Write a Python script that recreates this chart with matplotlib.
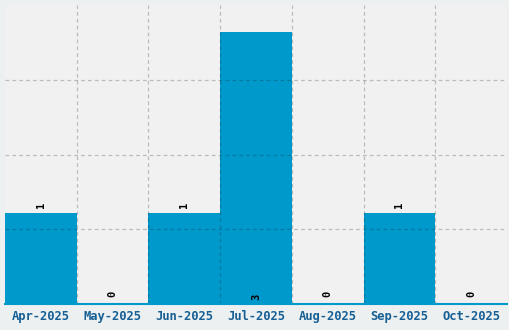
import matplotlib
matplotlib.use("Agg")
import matplotlib.pyplot as plt
import numpy as np

categories = ["Apr-2025", "May-2025", "Jun-2025", "Jul-2025", "Aug-2025", "Sep-2025", "Oct-2025"]
values = [1, 0, 1, 3, 0, 1, 0]

fig = plt.figure(figsize=(5.1, 3.3), dpi=100, facecolor="#edf0f0")
ax = fig.add_axes([5/510, 1 - 304/330, 502/510, 299/330])
ax.set_facecolor("#f1f1f1")

x = np.arange(len(categories))
ax.bar(x, values, width=1.0, color="#0099cc", zorder=2)
ax.set_xlim(-0.5, len(categories) - 0.5)
ymax = 3.3
ax.set_ylim(0, ymax)

gcol = (0.1, 0.1, 0.1, 0.25)
for b in np.arange(0.5, len(categories) - 1, 1.0):
    ax.axvline(b, color=gcol, linestyle=(0, (3, 2.5)), linewidth=0.9, zorder=3)
for g in np.linspace(0, ymax, 5)[1:-1]:
    ax.axhline(g, color=gcol, linestyle=(0, (3, 2.5)), linewidth=0.9, zorder=3)

for xi, v in zip(x, values):
    if v == 0:
        y = 0.08
    elif v >= 3:
        y = 0.04
    else:
        y = v + 0.06
    ax.text(xi, y, str(v), rotation=90, ha="center", va="bottom", fontsize=7.5,
            family="DejaVu Sans Mono", fontweight="bold", color="black", zorder=4)

ax.set_xticks(x)
ax.set_xticklabels(categories, family="DejaVu Sans Mono", fontweight="bold",
                   fontsize=8.7, color="#165f94")
ax.tick_params(axis="x", length=0, pad=4)
ax.set_yticks([])
for s in ["top", "left", "right"]:
    ax.spines[s].set_visible(False)
ax.spines["bottom"].set_color("#0099cc")
ax.spines["bottom"].set_linewidth(1.5)
ax.spines["bottom"].set_zorder(5)

fig.savefig("out.png", dpi=100, facecolor=fig.get_facecolor())
